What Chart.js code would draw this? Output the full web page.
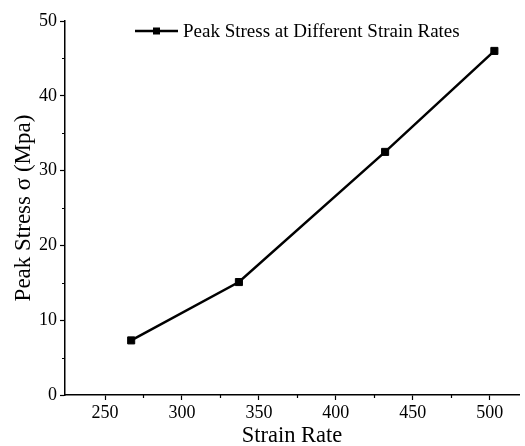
<!DOCTYPE html>
<html>
<head>
<meta charset="utf-8">
<script src="https://cdn.jsdelivr.net/npm/chart.js@4.4.1/dist/chart.umd.min.js"></script>
<style>
  html, body { margin: 0; padding: 0; background: #fff; }
  #wrap { width: 525px; height: 446px; }
</style>
</head>
<body>
<div id="wrap"><canvas id="chartCanvas" width="525" height="446"></canvas></div>
<script>
//Chart content
const seriesName = 'Peak Stress at Different Strain Rates'
const strainRates = [267, 337, 432, 503]
const peakStress = [7.3, 15.1, 32.5, 46.0]

const xTickLabels = [250, 300, 350, 400, 450, 500]
const xMinorTicks = [275, 325, 375, 425, 475]
const yTickLabels = [0, 10, 20, 30, 40, 50]
const yMinorTicks = [5, 15, 25, 35, 45]

const serif = "'Liberation Serif', 'Times New Roman', serif"


//Minor ticks and the legend are drawn by hand
const minorTicksPlugin = {
    id: 'minorTicks',
    afterDraw(chart)
    {
        const ctx = chart.ctx
        const xs = chart.scales.x
        const ys = chart.scales.y
        ctx.save()
        ctx.strokeStyle = '#000'
        ctx.lineWidth = 1.2
        ctx.beginPath()
        xMinorTicks.forEach(v => {
            const px = Math.round(xs.getPixelForValue(v)) + 0.5
            ctx.moveTo(px, xs.top)
            ctx.lineTo(px, xs.top + 3)
        })
        yMinorTicks.forEach(v => {
            const py = Math.round(ys.getPixelForValue(v)) + 0.5
            ctx.moveTo(ys.right, py)
            ctx.lineTo(ys.right - 3, py)
        })
        ctx.stroke()

        //legend
        const ly = 31
        ctx.lineWidth = 2.5
        ctx.beginPath()
        ctx.moveTo(135, ly)
        ctx.lineTo(178, ly)
        ctx.stroke()
        ctx.fillStyle = '#000'
        ctx.fillRect(153, ly - 3.5, 7, 7)
        ctx.font = '19px ' + serif
        ctx.textBaseline = 'middle'
        ctx.fillText(seriesName, 183, ly + 1)
        ctx.restore()
    }
}

const stressChart = new Chart(
    document.getElementById('chartCanvas'),
    {
        type: 'line',
        data:
        {
            datasets:
                [{
                    label: seriesName,
                    data: strainRates.map((x, i) => ({x: x, y: peakStress[i]})),
                    borderColor: '#000',
                    backgroundColor: '#000',
                    borderWidth: 2.5,
                    pointStyle: 'rect',
                    pointRadius: 5,
                    pointBorderWidth: 1,
                    tension: 0
                }]
        },
        options:
        {
            responsive: false,
            animation: false,
            layout: { padding: { top: 21, right: 1, left: 0, bottom: 0 } },
            scales:
            {
                x:
                {
                    type: 'linear',
                    min: 224,
                    max: 519,
                    afterBuildTicks: scale => { scale.ticks = xTickLabels.map(v => ({value: v})) },
                    afterFit: scale => { scale.height = 51 },
                    border: { display: true, color: '#000', width: 1.5 },
                    grid: { drawOnChartArea: false, drawTicks: true, tickLength: 5, tickColor: '#000', tickWidth: 1.2 },
                    ticks: { color: '#000', font: { family: serif, size: 18 }, padding: 2, maxRotation: 0 },
                    title: { display: true, text: 'Strain Rate', color: '#000', font: { family: serif, size: 22.5, lineHeight: 0.85 }, padding: 0 }
                },
                y:
                {
                    min: 0,
                    max: 50,
                    afterBuildTicks: scale => { scale.ticks = yTickLabels.map(v => ({value: v})) },
                    afterFit: scale => { scale.width = 65 },
                    border: { display: true, color: '#000', width: 1.5 },
                    grid: { drawOnChartArea: false, drawTicks: true, tickLength: 5, tickColor: '#000', tickWidth: 1.2 },
                    ticks: { color: '#000', font: { family: serif, size: 18 }, padding: 3 },
                    title: { display: true, text: 'Peak Stress σ (Mpa)', color: '#000', font: { family: serif, size: 23, lineHeight: 1.1 }, padding: { top: 11, bottom: 0 } }
                }
            },
            plugins:
            {
                legend: { display: false },
                tooltip: { enabled: false }
            }
        },
        plugins: [minorTicksPlugin]
    }
);
</script>
</body>
</html>
